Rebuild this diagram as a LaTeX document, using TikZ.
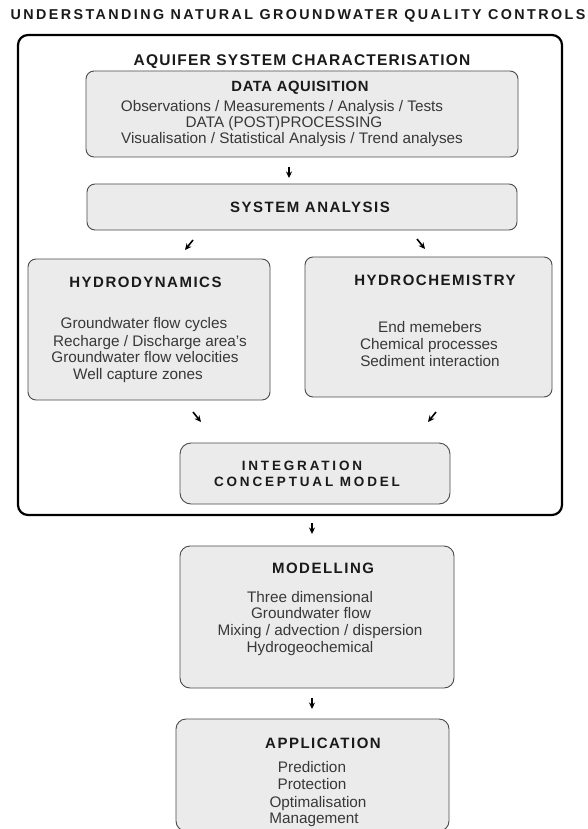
\documentclass[tikz,border=0pt]{standalone}
\usepackage{fontspec}
\setmainfont{Liberation Sans}
\newfontfamily\titlef[LetterSpace=17]{Liberation Sans}
\newfontfamily\headf[LetterSpace=10]{Liberation Sans}
\newfontfamily\aqf[LetterSpace=8]{Liberation Sans}
\newfontfamily\dataf[LetterSpace=4]{Liberation Sans}
\newfontfamily\intf[LetterSpace=21]{Liberation Sans}
\usetikzlibrary{arrows.meta}
\definecolor{boxfill}{HTML}{EBEBEB}
\definecolor{boxline}{HTML}{4A4A4A}
\definecolor{bodytext}{HTML}{383838}
\definecolor{headtext}{HTML}{1A1A1A}
\begin{document}
\begin{tikzpicture}[x=1pt,y=-1pt,
  panel/.style={draw=boxline, line width=0.9pt, fill=boxfill, rounded corners=8pt, rectangle, inner sep=0pt},
  outerpanel/.style={draw=black, line width=2.2pt, fill=white, rounded corners=10pt, rectangle, inner sep=0pt},
  bodyline/.style={anchor=base, inner sep=0pt, text=bodytext, font=\fontsize{15.3}{17}\selectfont},
  headline/.style={anchor=base, inner sep=0pt, text=headtext, font=\headf\bfseries\fontsize{15}{17}\selectfont},
  arr/.style={-{Stealth[length=6.5pt,width=6pt]}, line width=1.6pt, black}
]
\useasboundingbox[fill=white] (0,0) rectangle (587,829);

% title
\node[anchor=base, inner sep=0pt, text=headtext, font=\titlef\bfseries\fontsize{14.3}{16}\selectfont] (title) at (298,20) {UNDERSTANDING NATURAL GROUNDWATER QUALITY CONTROLS};

% outer box
\node[outerpanel, minimum width=544pt, minimum height=480pt] (outer) at (290,275) {};
\node[anchor=base, inner sep=0pt, text=headtext, font=\aqf\bfseries\fontsize{15.5}{17}\selectfont] (aq) at (302,66) {AQUIFER SYSTEM CHARACTERISATION};

% data acquisition
\node[panel, minimum width=432pt, minimum height=86pt] (data) at (302,114) {};
\node[anchor=base, inner sep=0pt, text=headtext, font=\dataf\bfseries\fontsize{14.8}{16}\selectfont] (dataT) at (300,92) {DATA AQUISITION};
\node[bodyline] (data1) at (282,112) {Observations / Measurements / Analysis / Tests};
\node[bodyline] (data2) at (284,128) {DATA (POST)PROCESSING};
\node[bodyline] (data3) at (292,144) {Visualisation / Statistical Analysis / Trend analyses};

% system analysis
\node[panel, minimum width=430pt, minimum height=46pt] (sys) at (302,207) {};
\node[headline] (sysT) at (310,212) {SYSTEM ANALYSIS};

% hydrodynamics
\node[panel, minimum width=242pt, minimum height=141pt] (hd) at (149,329.5) {};
\node[headline] (hdT) at (145.5,287) {HYDRODYNAMICS};
\node[bodyline] (hd1) at (144,328) {Groundwater flow cycles};
\node[bodyline] (hd2) at (150,346) {Recharge / Discharge area's};
\node[bodyline] (hd3) at (145,362) {Groundwater flow velocities};
\node[bodyline] (hd4) at (138,379) {Well capture zones};

% hydrochemistry
\node[panel, minimum width=247pt, minimum height=140pt] (hc) at (428.5,327) {};
\node[headline] (hcT) at (435,285) {HYDROCHEMISTRY};
\node[bodyline] (hc1) at (430,332) {End memebers};
\node[bodyline] (hc2) at (429,349) {Chemical processes};
\node[bodyline] (hc3) at (430,366) {Sediment interaction};

% integration
\node[panel, rounded corners=11pt, minimum width=270pt, minimum height=61pt] (int) at (315,473.5) {};
\node[anchor=base, inner sep=0pt, text=headtext, font=\intf\bfseries\fontsize{13.5}{15}\selectfont] (int1) at (302,470) {INTEGRATION};
\node[anchor=base, inner sep=0pt, text=headtext, font=\intf\bfseries\fontsize{13.5}{15}\selectfont] (int2) at (307,486) {CONCEPTUAL MODEL};

% modelling
\node[panel, rounded corners=10pt, minimum width=274pt, minimum height=142pt] (mod) at (317,617) {};
\node[headline] (modT) at (323,573) {MODELLING};
\node[bodyline] (mod1) at (310,602) {Three dimensional};
\node[bodyline] (mod2) at (311,618) {Groundwater flow};
\node[bodyline] (mod3) at (320,635) {Mixing / advection / dispersion};
\node[bodyline] (mod4) at (310,652) {Hydrogeochemical};

% application
\node[panel, rounded corners=10pt, minimum width=273pt, minimum height=112pt] (app) at (312.5,775) {};
\node[headline] (appT) at (323,748) {APPLICATION};
\node[bodyline] (app1) at (312,772) {Prediction};
\node[bodyline] (app2) at (312,789) {Protection};
\node[bodyline] (app3) at (318,807) {Optimalisation};
\node[bodyline] (app4) at (314,823) {Management};

% arrow end points
\coordinate (a1s) at (289,167); \coordinate (a1e) at (289,178);
\coordinate (a2s) at (193,240); \coordinate (a2e) at (185,250);
\coordinate (a3s) at (417,239); \coordinate (a3e) at (425,249);
\coordinate (a4s) at (193,412); \coordinate (a4e) at (201,422);
\coordinate (a5s) at (436,412); \coordinate (a5e) at (428,422);
\coordinate (a6s) at (312,523); \coordinate (a6e) at (312,534);
\coordinate (a7s) at (312,698); \coordinate (a7e) at (312,709);

\draw[arr] (a1s) -- (a1e);
\draw[arr] (a2s) -- (a2e);
\draw[arr] (a3s) -- (a3e);
\draw[arr] (a4s) -- (a4e);
\draw[arr] (a5s) -- (a5e);
\draw[arr] (a6s) -- (a6e);
\draw[arr] (a7s) -- (a7e);
\end{tikzpicture}
\end{document}
